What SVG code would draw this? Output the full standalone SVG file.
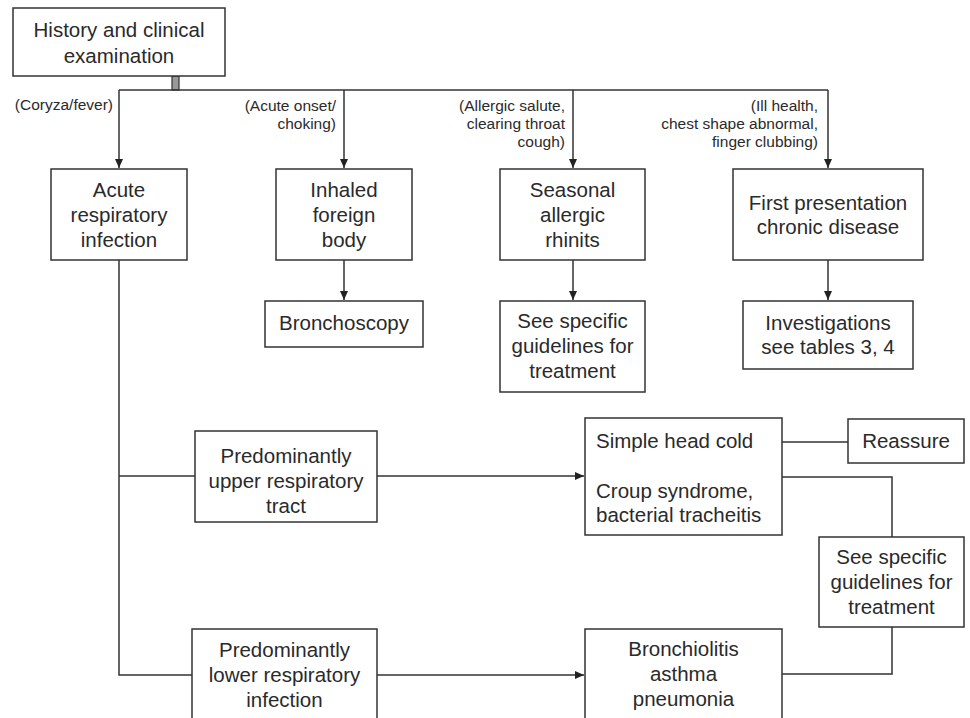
<svg xmlns="http://www.w3.org/2000/svg" width="970" height="718" viewBox="0 0 970 718">
<defs>
<style>
.box{fill:#fff;stroke:#333;stroke-width:1.5}
.t{font-family:"Liberation Sans",Arial,sans-serif;font-size:20.5px;fill:#2a2a2a;text-anchor:middle}
.tl{font-family:"Liberation Sans",Arial,sans-serif;font-size:20.5px;fill:#2a2a2a;text-anchor:start}
.lab{font-family:"Liberation Sans",Arial,sans-serif;font-size:15.5px;fill:#2a2a2a;text-anchor:end}
.c{fill:none;stroke:#333;stroke-width:1.5}
</style>
<marker id="arr" markerUnits="userSpaceOnUse" markerWidth="10" markerHeight="8" refX="9" refY="4" orient="auto">
<path d="M0,0 L9,4 L0,8 Z" fill="#222"/>
</marker>
</defs>
<rect width="970" height="718" fill="#fff"/>
<g id="connectors">
<rect x="172" y="76" width="7" height="14" fill="#999" stroke="#333" stroke-width="1.2"/>
<path class="c" d="M119,90 H828"/>
<path class="c" d="M119,90 V168" marker-end="url(#arr)"/>
<path class="c" d="M344,90 V168" marker-end="url(#arr)"/>
<path class="c" d="M573,90 V168" marker-end="url(#arr)"/>
<path class="c" d="M828,90 V168" marker-end="url(#arr)"/>
<path class="c" d="M344,260 V300" marker-end="url(#arr)"/>
<path class="c" d="M573,260 V300" marker-end="url(#arr)"/>
<path class="c" d="M828,260 V300" marker-end="url(#arr)"/>
<path class="c" d="M119,260 V675 H192"/>
<path class="c" d="M119,476 H195"/>
<path class="c" d="M377,476 H584" marker-end="url(#arr)"/>
<path class="c" d="M377,675 H584" marker-end="url(#arr)"/>
<path class="c" d="M782,442 H848"/>
<path class="c" d="M782,477 H892 V537"/>
<path class="c" d="M892,627 V674 H782"/>
</g>
<g id="labels">
<text class="lab" x="113" y="110">(Coryza/fever)</text>
<text class="lab" x="336" y="111">(Acute onset/</text>
<text class="lab" x="336" y="129">choking)</text>
<text class="lab" x="565" y="111">(Allergic salute,</text>
<text class="lab" x="565" y="129">clearing throat</text>
<text class="lab" x="565" y="147">cough)</text>
<text class="lab" x="818" y="111">(Ill health,</text>
<text class="lab" x="818" y="129">chest shape abnormal,</text>
<text class="lab" x="818" y="147">finger clubbing)</text>
</g>
<g id="history">
<rect class="box" x="13" y="8" width="212" height="68"/>
<text class="t" x="119" y="37">History and clinical</text>
<text class="t" x="119" y="63">examination</text>
</g>
<g id="acute">
<rect class="box" x="51" y="169" width="136" height="91"/>
<text class="t" x="119" y="197">Acute</text>
<text class="t" x="119" y="222">respiratory</text>
<text class="t" x="119" y="247">infection</text>
</g>
<g id="inhaled">
<rect class="box" x="276" y="169" width="136" height="91"/>
<text class="t" x="344" y="197">Inhaled</text>
<text class="t" x="344" y="222">foreign</text>
<text class="t" x="344" y="247">body</text>
</g>
<g id="seasonal">
<rect class="box" x="500" y="169" width="145" height="91"/>
<text class="t" x="572.5" y="197">Seasonal</text>
<text class="t" x="572.5" y="222">allergic</text>
<text class="t" x="572.5" y="247">rhinits</text>
</g>
<g id="first">
<rect class="box" x="733" y="169" width="190" height="91"/>
<text class="t" x="828" y="210">First presentation</text>
<text class="t" x="828" y="234">chronic disease</text>
</g>
<g id="bronchoscopy">
<rect class="box" x="265" y="301" width="158" height="46"/>
<text class="t" x="344" y="330">Bronchoscopy</text>
</g>
<g id="guidelines1">
<rect class="box" x="500" y="301" width="145" height="91"/>
<text class="t" x="572.5" y="328">See specific</text>
<text class="t" x="572.5" y="353">guidelines for</text>
<text class="t" x="572.5" y="378">treatment</text>
</g>
<g id="investigations">
<rect class="box" x="743" y="301" width="170" height="68"/>
<text class="t" x="828" y="330">Investigations</text>
<text class="t" x="828" y="354">see tables 3, 4</text>
</g>
<g id="upper">
<rect class="box" x="195" y="431" width="182" height="91"/>
<text class="t" x="286" y="463">Predominantly</text>
<text class="t" x="286" y="488">upper respiratory</text>
<text class="t" x="286" y="513">tract</text>
</g>
<g id="simple">
<rect class="box" x="585" y="418" width="197" height="117"/>
<text class="tl" x="596" y="448">Simple head cold</text>
<text class="tl" x="596" y="498">Croup syndrome,</text>
<text class="tl" x="596" y="522">bacterial tracheitis</text>
</g>
<g id="reassure">
<rect class="box" x="848" y="419" width="116" height="44"/>
<text class="t" x="906" y="448">Reassure</text>
</g>
<g id="guidelines2">
<rect class="box" x="819" y="537" width="145" height="90"/>
<text class="t" x="891.5" y="564">See specific</text>
<text class="t" x="891.5" y="589">guidelines for</text>
<text class="t" x="891.5" y="614">treatment</text>
</g>
<g id="lower">
<rect class="box" x="192" y="629" width="185" height="100"/>
<text class="t" x="284.5" y="657">Predominantly</text>
<text class="t" x="284.5" y="682">lower respiratory</text>
<text class="t" x="284.5" y="707">infection</text>
</g>
<g id="bronchiolitis">
<rect class="box" x="585" y="629" width="197" height="100"/>
<text class="t" x="683.5" y="656">Bronchiolitis</text>
<text class="t" x="683.5" y="681">asthma</text>
<text class="t" x="683.5" y="706">pneumonia</text>
</g>
</svg>
